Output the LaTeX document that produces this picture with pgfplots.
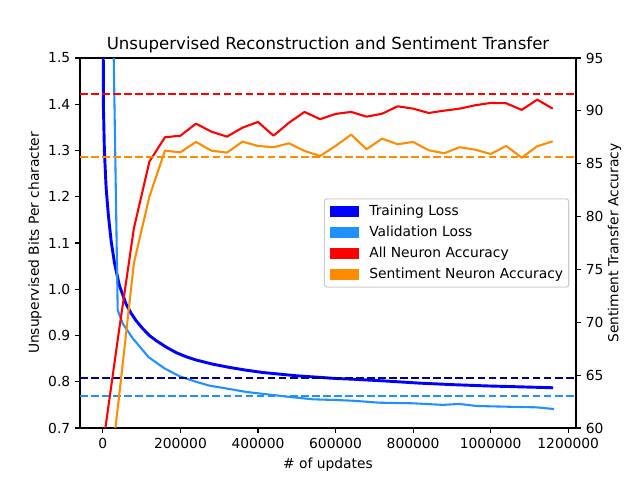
\documentclass[border=0pt]{standalone}
\usepackage{pgfplots}
\pgfplotsset{compat=1.18}
\usepackage{fontspec}
\setmainfont{DejaVu Sans}
\definecolor{dodger}{HTML}{1E90FF}
\definecolor{dorange}{HTML}{FF8C00}
\definecolor{dblue}{HTML}{00008B}
\definecolor{mblue}{HTML}{0000FF}
\definecolor{mred}{HTML}{FF0000}

\pgfplotstableread{
u v
0 3.0
38200 0.955
51100 0.926
76900 0.894
118000 0.853
158700 0.829
197400 0.812
239900 0.800
275000 0.7915
300600 0.788
369500 0.778
421200 0.773
472800 0.768
541400 0.762
601800 0.7605
644600 0.759
713500 0.7547
799500 0.7534
876900 0.750
920000 0.752
963100 0.7476
1074800 0.7454
1118000 0.7447
1163400 0.741
}\validtab

\pgfplotstableread{
u v
0 2.2
300 1.80
1300 1.40
3900 1.30
8300 1.220
14200 1.160
21200 1.105
29700 1.058
42600 1.008
59900 0.968
72800 0.948
85700 0.932
102700 0.915
120000 0.900
137300 0.889
163100 0.875
188900 0.863
215000 0.854
240500 0.847
283400 0.838
326500 0.831
369500 0.825
412400 0.820
455500 0.8165
498600 0.813
541400 0.8105
601800 0.807
644600 0.8055
730800 0.8015
816800 0.797
902700 0.7937
989000 0.791
1075000 0.789
1161000 0.787
}\traintab

\pgfplotstableread{
u all sent
0 58.3 50.2
40000 68.8 62.4
80000 78.9 75.6
120000 85.2 81.9
160000 87.5 86.23
200000 87.65 86.08
240000 88.79 87.06
280000 88.03 86.23
320000 87.56 86.05
360000 88.41 87.09
400000 88.95 86.68
440000 87.65 86.56
480000 88.88 86.93
520000 89.90 86.21
560000 89.21 85.73
600000 89.71 86.68
640000 89.90 87.75
680000 89.45 86.37
720000 89.73 87.37
760000 90.43 86.84
800000 90.21 87.06
840000 89.80 86.27
880000 90.02 85.99
920000 90.21 86.56
960000 90.53 86.33
1000000 90.75 85.92
1040000 90.72 86.68
1080000 90.09 85.57
1120000 91.06 86.65
1160000 90.21 87.12
}\acctab

\pgfplotsset{
  common/.style={
    scale only axis, width=357.12bp, height=266.4bp,
    xmin=-59000, xmax=1220000,
    at={(0,0)}, anchor=south west,
    tick align=outside, major tick length=3.5bp,
    every tick/.style={black, line width=0.8bp},
    axis line style={line width=0.8bp},
    ticklabel style={font=\fontsize{10}{12}\selectfont},
    label style={font=\fontsize{10}{12}\selectfont},
    /pgf/number format/assume math mode=true,
    scaled x ticks=false, scaled y ticks=false,
    xtick={0,200000,400000,600000,800000,1000000,1200000},
    xticklabel style={/pgf/number format/.cd, fixed, precision=0, 1000 sep={}},
  },
  mdash/.style={line width=1.5bp, dash pattern=on 5.55bp off 2.4bp},
  mline/.style={line width=1.5bp, line join=round},
  patchleg/.style={legend image code/.code={\fill[##1, draw=none, sharp corners] (0bp,-3.85bp) rectangle (20.9bp,3.85bp);}},
}

\begin{document}
\begin{tikzpicture}
\path[use as bounding box] (-57.6bp,-37.44bp) rectangle (403.2bp,308.16bp);
\begin{axis}[common,
  ymin=0.7, ymax=1.5,
  ytick={0.7,0.8,0.9,1.0,1.1,1.2,1.3,1.4,1.5},
  yticklabel style={/pgf/number format/.cd, fixed, fixed zerofill, precision=1},
  xtick pos=bottom, ytick pos=left,
  title={Unsupervised Reconstruction and Sentiment Transfer},
  every axis title shift=0pt,
  title style={at={(axis description cs:0.5,1)}, anchor=base, yshift=6.3bp, font=\fontsize{12}{14.4}\selectfont},
  xlabel={\# of updates},
  ylabel={Unsupervised Bits Per character},
  ylabel style={at={(axis description cs:-0.0907,0.5)}, anchor=center},
]
\addplot[mline, mblue, line width=2.1bp, forget plot] table[x=u, y=v] {\traintab};
\addplot[mline, dodger, forget plot] table[x=u, y=v] {\validtab};
\addplot[mdash, dblue, forget plot] coordinates {(-59000,0.809) (1220000,0.809)};
\addplot[mdash, dodger, forget plot] coordinates {(-59000,0.7698) (1220000,0.7698)};
\end{axis}
\begin{axis}[common,
  ymin=60, ymax=95,
  ytick={60,65,70,75,80,85,90,95},
  axis x line=none, axis y line*=right,
  ylabel={Sentiment Transfer Accuracy},
  ylabel style={at={(axis description cs:1.0776,0.5)}, anchor=center},
  legend style={at={(axis description cs:1,0.5)}, anchor=east, xshift=-4.8bp,
    draw=black!20, rounded corners=2bp, fill=white, line width=0.8bp,
    inner xsep=4.1bp, inner ysep=4.4bp,
    row sep=5.6bp, column sep=7.4bp,
    font=\fontsize{10}{12}\selectfont,
    nodes={inner xsep=0pt, inner ysep=0pt, text height=7.5bp, text depth=2bp},
    cells={anchor=west}},
]
\addlegendimage{patchleg, fill=mblue}
\addlegendentry{Training Loss}
\addlegendimage{patchleg, fill=dodger}
\addlegendentry{Validation Loss}
\addlegendimage{patchleg, fill=mred}
\addlegendentry{All Neuron Accuracy}
\addlegendimage{patchleg, fill=dorange}
\addlegendentry{Sentiment Neuron Accuracy}
\addplot[mline, mred, forget plot] table[x=u, y=all] {\acctab};
\addplot[mline, dorange, forget plot] table[x=u, y=sent] {\acctab};
\addplot[mdash, mred, forget plot] coordinates {(-59000,91.57) (1220000,91.57)};
\addplot[mdash, dorange, forget plot] coordinates {(-59000,85.67) (1220000,85.67)};
\end{axis}
\end{tikzpicture}
\end{document}
